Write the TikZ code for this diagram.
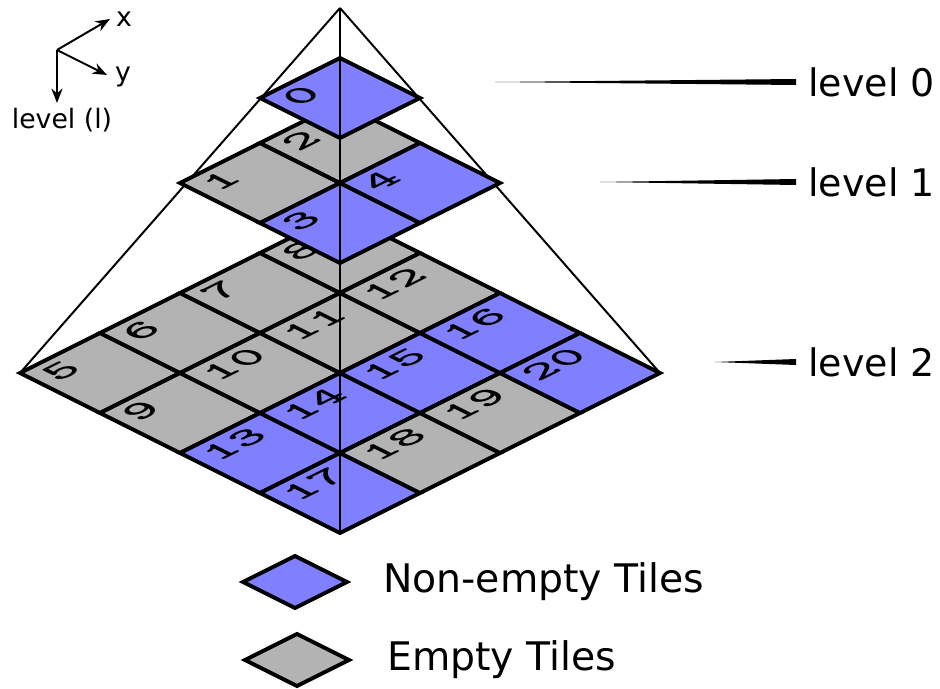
\documentclass[tikz,border=0pt]{standalone}
\usepackage{fontspec}
\setmainfont{DejaVu Sans}
\usetikzlibrary{arrows.meta, positioning}
\definecolor{tileblue}{HTML}{8080FF}
\definecolor{tilegray}{HTML}{B3B3B3}

\tikzset{
  tile/.style={draw=black, line width=2.8pt},
  fulltile/.style={tile, fill=tileblue},
  emptytile/.style={tile, fill=tilegray},
  tilenum/.style={anchor=west, inner sep=0pt, font=\ttfamily\bfseries\fontsize{35}{35}\selectfont,
    cm={1,0.5,-0.68,0.34,(0,0)}},
  edge/.style={line width=1.4pt},
  axis/.style={-{Stealth[length=0.36cm, width=0.28cm]}, line width=1.4pt},
  lvltext/.style={font=\fontsize{27}{27}\selectfont, anchor=west, inner sep=0.3cm},
}

\begin{document}
\begin{tikzpicture}
  \useasboundingbox (-8.5,-7.875) rectangle (15,9.325);

  % Pyramid corners
  \coordinate (apex) at (0,9.125);
  \coordinate (L) at (-8,0);
  \coordinate (R) at (8,0);
  \coordinate (B) at (0,-4);

  % Pyramid edges
  \draw[edge] (apex) -- (L);
  \draw[edge] (apex) -- (R);

  % level 2: 4x4 tiles
  \foreach \n/\i/\j/\s in {5/0/0/emptytile, 6/0/1/emptytile, 7/0/2/emptytile, 8/0/3/emptytile,
      9/1/0/emptytile, 10/1/1/emptytile, 11/1/2/emptytile, 12/1/3/emptytile,
      13/2/0/fulltile, 14/2/1/fulltile, 15/2/2/fulltile, 16/2/3/fulltile,
      17/3/0/fulltile, 18/3/1/emptytile, 19/3/2/emptytile, 20/3/3/fulltile}
  {
    \coordinate (c\n) at ({-8+2*(\i+\j+1)}, {\j-\i});
    \draw[\s] (c\n) ++(-2,0) -- ++(2,1) -- ++(2,-1) -- ++(-2,-1) -- cycle;
    \node[tilenum] (n\n) at ([shift={(-1.3,-0.12)}]c\n) {\n};
  }

  % level 1: 2x2 tiles
  \foreach \n/\i/\j/\s in {1/0/0/emptytile, 2/0/1/emptytile, 3/1/0/fulltile, 4/1/1/fulltile}
  {
    \coordinate (c\n) at ({-4+2*(\i+\j+1)}, {4.75+\j-\i});
    \draw[\s] (c\n) ++(-2,0) -- ++(2,1) -- ++(2,-1) -- ++(-2,-1) -- cycle;
    \node[tilenum] (n\n) at ([shift={(-1.3,-0.12)}]c\n) {\n};
  }

  % level 0: single tile
  \coordinate (c0) at (0,6.875);
  \draw[fulltile] (c0) ++(-2,0) -- ++(2,1) -- ++(2,-1) -- ++(-2,-1) -- cycle;
  \node[tilenum] (n0) at ([shift={(-1.3,-0.12)}]c0) {0};

  % centre line on top
  \draw[edge] (apex) -- (B);

  % Level labels with tapered pointers
  \node[lvltext] (lvl0) at (11.4,7.275) {level 0};
  \node[lvltext] (lvl1) at (11.4,4.775) {level 1};
  \node[lvltext] (lvl2) at (11.4,0.275) {level 2};
  \coordinate (s0) at (3.875,7.275);
  \coordinate (s1) at (6.5,4.775);
  \coordinate (s2) at (9.375,0.275);
  \fill (s0) -- ([yshift=0.075cm]lvl0.west) -- ([yshift=-0.075cm]lvl0.west) -- cycle;
  \fill (s1) -- ([yshift=0.075cm]lvl1.west) -- ([yshift=-0.075cm]lvl1.west) -- cycle;
  \fill (s2) -- ([yshift=0.075cm]lvl2.west) -- ([yshift=-0.075cm]lvl2.west) -- cycle;

  % Axes
  \coordinate (o) at (-7.075,8.075);
  \coordinate (xtip) at (-5.75,8.85);
  \coordinate (ytip) at (-5.825,7.45);
  \coordinate (ltip) at (-7.075,6.75);
  \draw[axis] (o) -- (xtip);
  \draw[axis] (o) -- (ytip);
  \draw[axis] (o) -- (ltip);
  \node[font=\fontsize{19}{19}\selectfont] (xlab) at (-5.4,8.85) {x};
  \node[font=\fontsize{19}{19}\selectfont] (ylab) at (-5.425,7.4) {y};
  \node[font=\fontsize{19}{19}\selectfont] (llab) at (-6.95,6.325) {level (l)};

  % Legend
  \draw[fulltile] (-1.125,-5.225) ++(-1.3,0) -- ++(1.3,0.65) -- ++(1.3,-0.65) -- ++(-1.3,-0.65) -- cycle;
  \draw[emptytile] (-1.075,-7.175) ++(-1.3,0) -- ++(1.3,0.65) -- ++(1.3,-0.65) -- ++(-1.3,-0.65) -- cycle;
  \node[lvltext, inner sep=0pt, font=\fontsize{28}{28}\selectfont] (full) at (1.075,-5.225) {Non-empty Tiles};
  \node[lvltext, inner sep=0pt, font=\fontsize{28}{28}\selectfont] (empty) at (1.175,-7.175) {Empty Tiles};
\end{tikzpicture}
\end{document}
